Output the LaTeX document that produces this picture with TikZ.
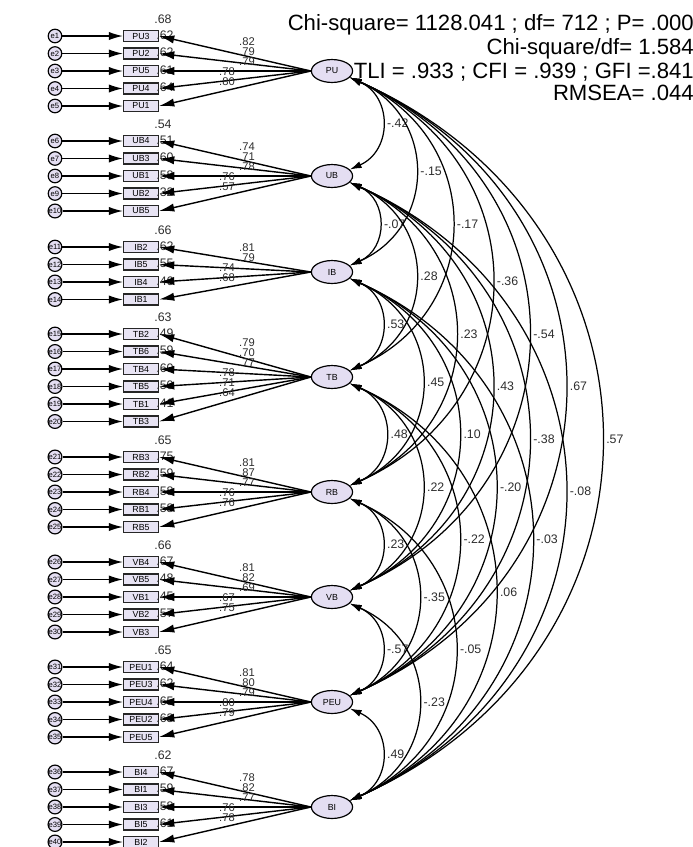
\documentclass[tikz,border=0pt]{standalone}
\usepackage{fontspec}
\setmainfont{Liberation Sans}
\usepackage{tikz}
\usetikzlibrary{shapes.geometric, arrows.meta, positioning}
\definecolor{latfill}{RGB}{228,222,242}
\definecolor{obsfill}{RGB}{232,228,244}
\definecolor{numtext}{RGB}{45,45,45}
\tikzset{
  lat/.style={
    ellipse, draw, line width=1pt, fill=latfill,
    minimum width=35pt, minimum height=19.5pt, inner sep=0pt,
    font=\fontsize{7.5}{8}\selectfont
  },
  obs/.style={rectangle, draw=black!85, line width=1.1pt, fill=obsfill,
    minimum width=29.5pt, minimum height=9.5pt, inner sep=0pt,
    font=\fontsize{7.5}{8}\selectfont},
  err/.style={circle, draw, line width=1pt, fill=latfill,
    minimum size=11.5pt, inner sep=0pt, font=\fontsize{6.5}{7}\selectfont},
  arr/.style={-{Latex[length=12pt,width=7pt]}, line width=1.2pt},
  load/.style={-{Latex[length=13pt,width=7pt]}, line width=1.2pt},
  corr/.style={{Latex[length=10pt,width=6pt]}-{Latex[length=10pt,width=6pt]},
    line width=1.05pt},
  num/.style={font=\fontsize{10.5}{11}\selectfont, text=numtext, inner sep=0pt},
  ldl/.style={num, font=\fontsize{9.5}{10}\selectfont},
  clbl/.style={num, midway, right=4pt},
  stat/.style={font=\fontsize{18.8}{20}\selectfont, inner sep=0pt,
    anchor=base east}
}

\begin{document}
\begin{tikzpicture}[x=0.85pt, y=0.85pt]
  \useasboundingbox (0,0) rectangle (693,-847);

  % factors with their indicators
  \foreach \lat/\ly/\ry/\rtop/\off/\nn/\nup/\items in {
    PU/71/36/.68/0/5/3/{PU3/.82/.62, PU2/.79/.62, PU5/.79/.61, PU4/.78/.64, PU1/.80/{}},
    UB/176/141/.54/5/5/3/{UB4/.74/.51, UB3/.71/.60, UB1/.78/.58, UB2/.76/.32, UB5/.57/{}},
    IB/272/247/.66/10/4/2/{IB2/.81/.62, IB5/.79/.55, IB4/.74/.46, IB1/.68/{}},
    TB/377/334/.63/14/6/3/{TB2/.79/.49, TB6/.70/.59, TB4/.77/.60, TB5/.78/.50, TB1/.71/.41, TB3/.64/{}},
    RB/492/457/.65/20/5/3/{RB3/.81/.75, RB2/.87/.59, RB4/.77/.58, RB1/.76/.58, RB5/.76/{}},
    VB/597/562/.66/25/5/3/{VB4/.81/.67, VB5/.82/.48, VB1/.69/.45, VB2/.67/.57, VB3/.75/{}},
    PEU/702/667/.65/30/5/3/{PEU1/.81/.64, PEU3/.80/.62, PEU4/.79/.65, PEU2/.80/.63, PEU5/.79/{}},
    BI/807/772/.62/35/5/3/{BI4/.78/.67, BI1/.82/.59, BI3/.77/.58, BI5/.76/.61, BI2/.78/{}}}
  {
    \node[lat] (\lat) at (332,-\ly) {\lat};
    \node[num] at (163,{-\ry+17}) {\rtop};
    \foreach \obsname/\ld/\rs [count=\k from 0] in \items {
      \pgfmathtruncatemacro\en{\off+\k+1}
      \node[obs] (\obsname) at (141,{-\ry-17.5*\k}) {\obsname};
      \node[err] (e\en) at (55,{-\ry-17.5*\k}) {e\en};
      \node[num] at (165,{-\ry-17.5*\k+1}) {\rs};
      \draw[arr] (e\en) -- (\obsname);
      \draw[load] (\lat.west) -- (\obsname.east);
      \pgfmathsetmacro\lx{\k<\nup ? 247 : 227}
      \node[ldl] at (\lx,{-(\ly-9.75-5*(\nn-1)+10*\k)}) {\ld};
    }
  }

  % correlations
  \foreach \a/\b/\r in {
    PU/UB/-.42, PU/IB/-.15, PU/TB/-.17, PU/RB/-.36, PU/VB/-.54, PU/PEU/.67, PU/BI/.57,
    UB/IB/-.07, UB/TB/.28, UB/RB/.23, UB/VB/.43, UB/PEU/-.38, UB/BI/-.08,
    IB/TB/.53, IB/RB/.45, IB/VB/.10, IB/PEU/-.20, IB/BI/-.03,
    TB/RB/.48, TB/VB/.22, TB/PEU/-.22, TB/BI/.06,
    RB/VB/.23, RB/PEU/-.35, RB/BI/-.05,
    VB/PEU/-.57, VB/BI/-.23,
    PEU/BI/.49}
    \draw[corr] (\a.-20) to[out=-24, in=24, looseness=1.3]
      node[clbl] {\r} (\b.20);

  % fit indices
  \node[stat] (chi) at (694,-30) {Chi-square= 1128.041 ; df= 712 ; P= .000};
  \node[stat] (chidf) at (694,-54) {Chi-square/df= 1.584};
  \node[stat] (tli) at (694,-78) {TLI = .933 ; CFI = .939 ; GFI =.841};
  \node[stat] (rmsea) at (694,-100) {RMSEA= .044};
\end{tikzpicture}
\end{document}
